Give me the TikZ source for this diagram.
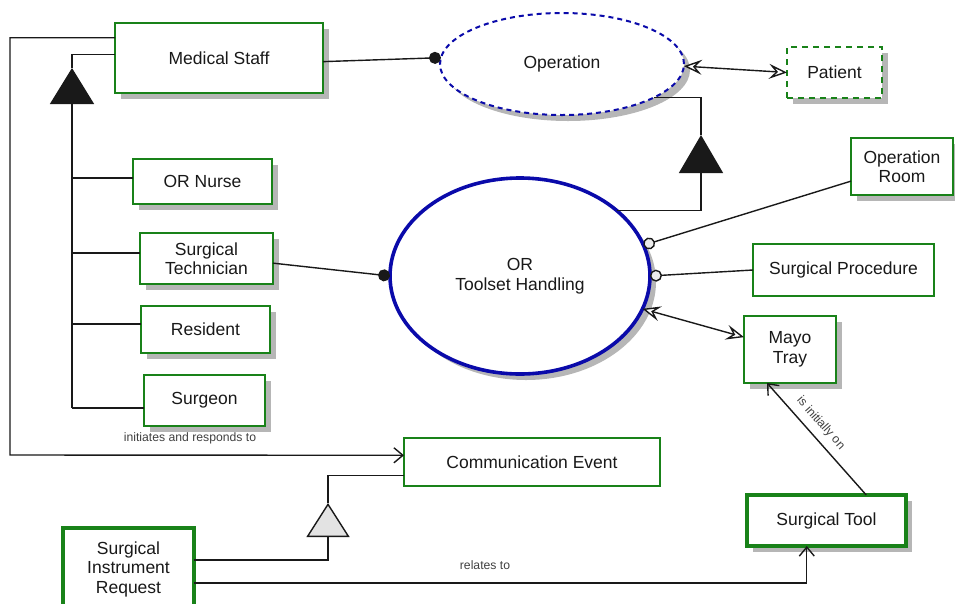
\documentclass[tikz,border=0pt]{standalone}
\usepackage{fontspec}
\setmainfont{Liberation Sans}
\usetikzlibrary{arrows.meta,shapes.geometric,shadows,calc}
\definecolor{boxgreen}{RGB}{25,130,25}
\definecolor{ellblue}{RGB}{10,10,170}
\definecolor{shgray}{RGB}{182,182,182}
\begin{document}
\begin{tikzpicture}[x=1pt,y=-1pt,
  sh/.style={drop shadow={shadow xshift=6pt,shadow yshift=-6pt,fill=shgray,opacity=1}},
  cls/.style={draw=boxgreen,line width=1.8pt,fill=white,inner sep=0pt,outer sep=0pt,
     align=center,font=\fontsize{17.5}{19.5}\selectfont,text=black!90},
  thickcls/.style={cls,line width=3.6pt},
  ell/.style={ellipse,draw=ellblue,fill=white,inner sep=0pt,outer sep=0pt,align=center,
     font=\fontsize{17.5}{20}\selectfont,text=black!90},
  conn/.style={draw=black!90,line width=1.4pt},
  lbl/.style={font=\fontsize{12.2}{14}\selectfont,text=black!75,inner sep=1pt},
  barb/.style={-{Straight Barb[length=9pt,width=15pt]}},
  dotend/.style={-{Circle[length=12pt,width=12pt]}},
  ocirc/.style={{Circle[fill=gray!15,length=12pt,width=12pt]}-},
  dblopen/.style={{Stealth[fill=white,length=18pt,width=15pt,inset=7pt]}-{Stealth[fill=white,length=18pt,width=15pt,inset=7pt]}},
  gentri/.style={-{Triangle[length=#1,width=44pt]}}
]
\useasboundingbox (0,0) rectangle (955,603);

% class boxes
\node[cls,sh,minimum width=208pt,minimum height=70pt] (ms) at (219,58) {Medical Staff};
\node[cls,sh,minimum width=139pt,minimum height=45pt] (nurse) at (202.5,181.5) {OR Nurse};
\node[cls,sh,minimum width=133pt,minimum height=51pt] (tech) at (206.5,258.5) {Surgical\\Technician};
\node[cls,sh,minimum width=129pt,minimum height=47pt] (res) at (205.5,329.5) {Resident};
\node[cls,sh,minimum width=121pt,minimum height=51pt] (surg) at (204.5,400.5) {Surgeon};
\node[cls,sh,dash pattern=on 6pt off 5pt,minimum width=95pt,minimum height=51pt] (pat) at (834.5,72.5) {Patient};
\node[cls,sh,minimum width=102pt,minimum height=57pt] (oproom) at (902,166.5) {Operation\\Room};
\node[cls,minimum width=181pt,minimum height=52pt] (proc) at (843.5,270) {Surgical Procedure};
\node[cls,sh,minimum width=92pt,minimum height=67pt] (mayo) at (790,349.5) {Mayo\\Tray};
\node[thickcls,sh,minimum width=159pt,minimum height=51pt] (tool) at (826.5,520.5) {Surgical Tool};
\node[cls,minimum width=256pt,minimum height=48pt] (comm) at (532,462) {Communication Event};
\node[thickcls,minimum width=131pt,minimum height=82pt] (sir) at (128.5,569) {Surgical\\Instrument\\Request};

% ellipses
\node[ell,sh,line width=2pt,dash pattern=on 5pt off 4pt,minimum width=244pt,minimum height=102pt] (op) at (562,64) {Operation};
\node[ell,sh,line width=3.6pt,minimum width=260pt,minimum height=196pt] (ort) at (520,276) {OR\\Toolset Handling};

% generalization: staff roles -> Medical Staff
\coordinate (msapex) at (72,68);
\coordinate (t1) at (72,178);
\coordinate (t2) at (72,253);
\coordinate (t3) at (72,324);
\coordinate (t4) at (72,408);
\draw[conn,gentri=36pt] (t4) -- (msapex);
\draw[conn] (msapex) |- (ms.178);
\draw[conn] (t1) -- (t1 -| nurse.west);
\draw[conn] (t2) -- (t2 -| tech.west);
\draw[conn] (t3) -- (t3 -| res.west);
\draw[conn] (t4) -- (t4 -| surg.west);

% Medical Staff -> Operation
\draw[conn,dotend] (ms.-2) -- (op.177);
% Surgical Technician -> OR Toolset Handling
\draw[conn,dotend] (tech.-4) -- (ort.180);

% Operation <-> Patient
\draw[conn,dblopen] (op.-1) -- (pat.west);

% generalization OR Toolset Handling -> Operation
\coordinate (opapex) at (701,135);
\draw[conn,gentri=38pt] (ort.34) -| (opapex);
\draw[conn] (opapex) |- (op.-20);

% OR Toolset Handling attributes
\draw[conn,ocirc] (ort.14) -- (oproom.196);
\draw[conn,ocirc] (ort.east) -- (proc.west);
\draw[conn,dblopen] (ort.-15) -- (mayo.165);

% Mayo Tray <- Surgical Tool
\coordinate (mayob) at ($(mayo.south west)!0.25!(mayo.south east)$);
\coordinate (toolt) at ($(tool.north west)!0.75!(tool.north east)$);
\draw[conn,{Straight Barb[length=9pt,width=15pt]}-] (mayob) -- node[pos=0.44,sloped,above=6pt,lbl]{is initially on} (toolt);

% Medical Staff -> Communication Event
\draw[conn,barb] (ms.169) -| (10,455) -- (comm.177);
\node[lbl] (l1) at (190,438) {initiates and responds to};

% generalization Surgical Instrument Request -> Communication Event
\coordinate (sirapex) at (328,503);
\draw[conn,-{Triangle[fill=gray!22,length=34pt,width=43pt]}] (sir.8) -| (sirapex);
\draw[conn] (sirapex) |- (comm.186);

% Surgical Instrument Request -> Surgical Tool
\coordinate (toolb) at ($(tool.south west)!0.376!(tool.south east)$);
\draw[conn,barb] (sir.-12) -| (toolb);
\node[lbl] (l2) at (485,565) {relates to};
\end{tikzpicture}
\end{document}
